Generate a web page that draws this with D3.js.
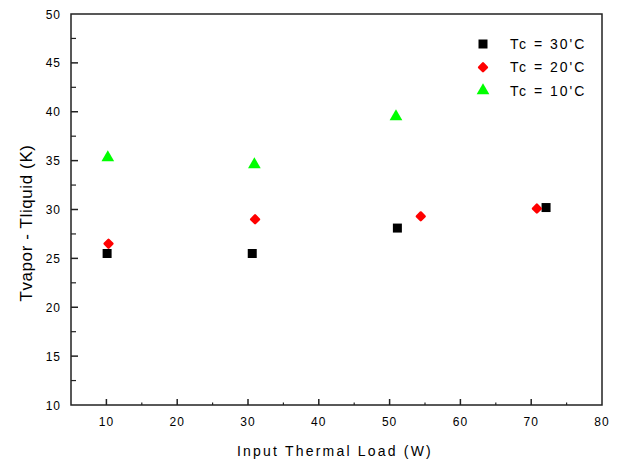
<!DOCTYPE html>
<html>
<head>
<meta charset="utf-8">
<script src="https://cdn.jsdelivr.net/npm/d3@7"></script>
<style>
  body { margin: 0; background: #fff; }
  text { font-family: "Liberation Sans", Arial, sans-serif; fill: #000; }
</style>
</head>
<body>
<div id="chart"></div>
<script>
// series: input thermal load (W) vs Tvapor - Tliquid (K)
var seriesNames = ["Tc = 30'C", "Tc = 20'C", "Tc = 10'C"];
var tc30 = [[10.1, 25.5], [30.6, 25.5], [51.1, 28.1], [72.1, 30.2]];
var tc20 = [[10.3, 26.5], [31.0, 29.0], [54.4, 29.3], [70.8, 30.1]];
var tc10 = [[10.2, 35.3], [30.9, 34.6], [50.9, 39.5]];
var xTicks = [10, 20, 30, 40, 50, 60, 70, 80];
var yTicks = [10, 15, 20, 25, 30, 35, 40, 45, 50];

var W = 618, H = 464;
var margin = {left: 71, top: 14, right: 16, bottom: 59};

var svg = d3.select("#chart").append("svg")
  .attr("width", W)
  .attr("height", H);

var x = d3.scaleLinear().domain([5, 80]).range([margin.left, W - margin.right]);
var y = d3.scaleLinear().domain([10, 50]).range([H - margin.bottom, margin.top]);

// frame
svg.append("rect")
  .attr("x", x(5)).attr("y", y(50))
  .attr("width", x(80) - x(5)).attr("height", y(10) - y(50))
  .attr("fill", "none").attr("stroke", "#222").attr("stroke-width", 1.5);

// x axis ticks (inward) + minor
var g = svg.append("g");
xTicks.forEach(function (t) {
  if (t < 80) {
    g.append("line").attr("x1", x(t)).attr("x2", x(t))
      .attr("y1", y(10)).attr("y2", y(10) - 6)
      .attr("stroke", "#222").attr("stroke-width", 1.5);
    g.append("line").attr("x1", x(t + 5)).attr("x2", x(t + 5))
      .attr("y1", y(10)).attr("y2", y(10) - 2.5)
      .attr("stroke", "#222").attr("stroke-width", 1.2);
  }
  g.append("text").attr("x", x(t)).attr("y", y(10) + 21)
    .attr("text-anchor", "middle").attr("font-size", 12)
    .attr("letter-spacing", 1)
    .text(t);
});

yTicks.forEach(function (t) {
  if (t > 10 && t < 50) {
    g.append("line").attr("x1", x(5)).attr("x2", x(5) + 7)
      .attr("y1", y(t)).attr("y2", y(t))
      .attr("stroke", "#222").attr("stroke-width", 1.5);
  }
  if (t < 50) {
    g.append("line").attr("x1", x(5)).attr("x2", x(5) + 5)
      .attr("y1", y(t + 2.5)).attr("y2", y(t + 2.5))
      .attr("stroke", "#222").attr("stroke-width", 1.2);
  }
  g.append("text").attr("x", x(5) - 10).attr("y", y(t) + 4.5)
    .attr("text-anchor", "end").attr("font-size", 12)
    .attr("letter-spacing", 1)
    .text(t);
});

// axis titles
svg.append("text")
  .attr("x", 335).attr("y", 456)
  .attr("text-anchor", "middle").attr("font-size", 14)
  .attr("letter-spacing", 2.2)
  .text("Input Thermal Load (W)");

svg.append("text")
  .attr("transform", "translate(32,223) rotate(-90)")
  .attr("text-anchor", "middle").attr("font-size", 17)
  .attr("letter-spacing", 0.6)
  .text("Tvapor - Tliquid (K)");

// markers
var sym = {
  square: d3.symbol().type(d3.symbolSquare).size(81),
  diamond: d3.symbol().type(d3.symbolSquare).size(30),
  triangle: d3.symbol().type(d3.symbolTriangle).size(70)
};
var series = [
  {data: tc30, shape: sym.square, color: "#000000", rot: 0, sw: 0},
  {data: tc20, shape: sym.diamond, color: "#ff0000", rot: 45, sw: 2.5},
  {data: tc10, shape: sym.triangle, color: "#00ff00", rot: 0, sw: 0}
];

series.forEach(function (s) {
  svg.append("g").selectAll("path").data(s.data).enter().append("path")
    .attr("d", s.shape)
    .attr("transform", function (d) {
      return "translate(" + x(d[0]) + "," + y(d[1]) + ") rotate(" + s.rot + ")";
    })
    .attr("fill", s.color)
    .attr("stroke", s.color).attr("stroke-width", s.sw)
    .attr("stroke-linejoin", "round");
});

// legend
var legend = svg.append("g").attr("transform", "translate(483,44)");
series.forEach(function (s, i) {
  legend.append("path").attr("d", s.shape)
    .attr("transform", "translate(0," + (i * 23.3) + ") rotate(" + s.rot + ")")
    .attr("fill", s.color)
    .attr("stroke", s.color).attr("stroke-width", s.sw)
    .attr("stroke-linejoin", "round");
  legend.append("text").attr("x", 27).attr("y", i * 23.3 + 5)
    .attr("font-size", 14).attr("letter-spacing", 2)
    .text(seriesNames[i]);
});
</script>
</body>
</html>
